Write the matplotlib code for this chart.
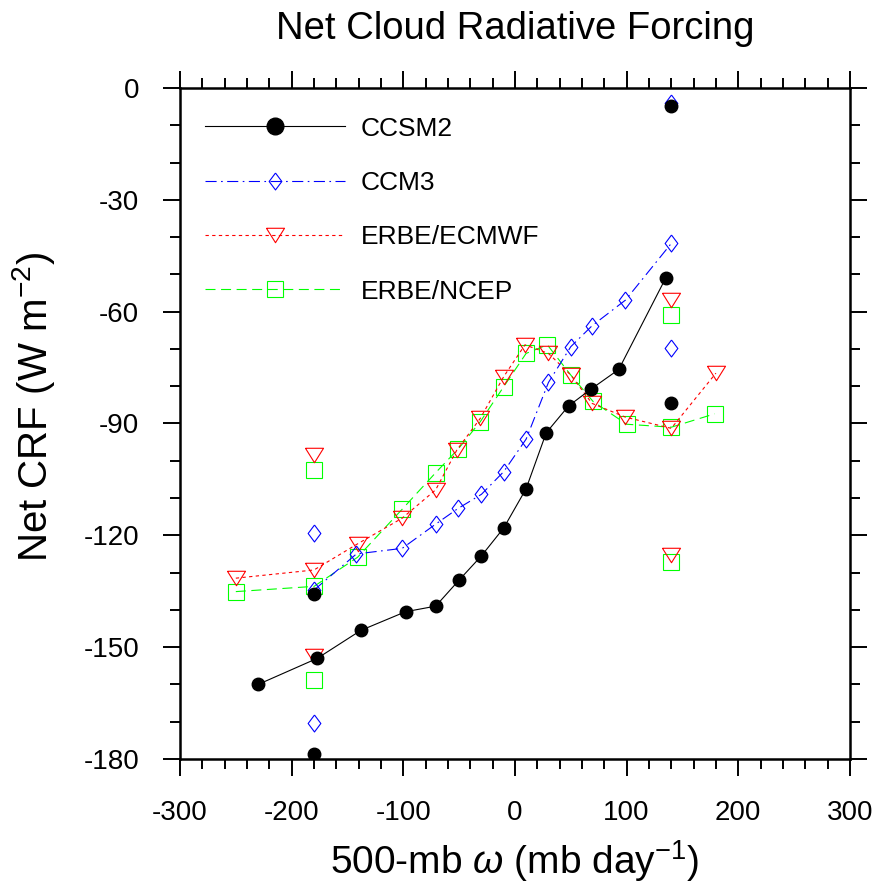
import numpy as np
import matplotlib
matplotlib.use("Agg")
import matplotlib.pyplot as plt
from matplotlib.ticker import MultipleLocator

plt.rcParams['font.family'] = ['Liberation Sans', 'DejaVu Sans']
plt.rcParams['mathtext.fontset'] = 'custom'
plt.rcParams['mathtext.rm'] = 'Liberation Sans'
plt.rcParams['mathtext.it'] = 'Liberation Sans:italic'
plt.rcParams['axes.unicode_minus'] = False

# CCSM2 (binned curve + isolated points at the two ends)
ccsm2_x = [-230, -177, -138, -98, -71, -50, -30, -10, 10, 28, 48, 68, 93, 135]
ccsm2_y = [-160, -153, -145.5, -140.5, -139, -132, -125.5, -118, -107.5, -92.5, -85.3, -80.8, -75.5, -51]
ccsm2_px = [-180, -180, 140, 140]
ccsm2_py = [-178.6, -135.8, -4.8, -84.6]

# CCM3
ccm3_x = [-180, -142, -101, -71, -51, -30, -10, 10, 30, 50, 69, 99, 140]
ccm3_y = [-134.7, -125, -123.5, -117, -112.8, -109, -102.9, -94.2, -79, -69.4, -63.8, -56.9, -41.7]
ccm3_px = [-180, -180, 140, 140]
ccm3_py = [-119.3, -170.4, -69.8, -3.9]

# ERBE/ECMWF
ecmwf_x = [-250, -180, -141, -101, -71, -52, -31, -10, 9, 30, 50, 69, 99, 140, 180]
ecmwf_y = [-131.5, -129.3, -122.3, -115.4, -107.8, -97.1, -88.6, -77.4, -68.9, -71.2, -77, -84.6, -88.3, -91.3, -76.5]
ecmwf_px = [-180, -180, 140, 140]
ecmwf_py = [-98.4, -152.5, -56.9, -125.3]

# ERBE/NCEP
ncep_x = [-250, -180, -141, -101, -71, -51, -31, -10, 10, 29, 50, 70, 100, 140, 179]
ncep_y = [-135.1, -133.7, -125.9, -113, -103.2, -96.9, -89.5, -80.1, -71.2, -68.9, -77, -84.1, -90.2, -91, -87.4]
ncep_px = [-180, -180, 140, 140]
ncep_py = [-102.5, -158.8, -60.9, -127.1]

# marker shapes closer to the NCL ones
diamond = [(0, 1), (0.75, 0), (0, -1), (-0.75, 0), (0, 1)]
tri_down = [(-1, 0.8), (1, 0.8), (0, -0.8), (-1, 0.8)]

GREEN = '#00ff00'
RED = '#ff0000'
BLUE = '#0000ff'

fig = plt.figure(figsize=(8.78, 8.88), dpi=100)
ax = fig.add_axes([0.205, 0.1453, 0.763, 0.7556])

lw = 0.8
mew = 0.8

# green dashed, squares
ax.plot(ncep_x, ncep_y, color=GREEN, lw=lw, dashes=(9, 5), marker='s', ms=11.5,
        mfc='none', mec=GREEN, mew=mew, label='ERBE/NCEP')
ax.plot(ncep_px, ncep_py, ls='none', marker='s', ms=11.5, mfc='none', mec=GREEN, mew=mew)

# red dotted, down triangles
ax.plot(ecmwf_x, ecmwf_y, color=RED, lw=lw, dashes=(3, 3), marker=tri_down, ms=13,
        mfc='none', mec=RED, mew=mew, label='ERBE/ECMWF')
ax.plot(ecmwf_px, ecmwf_py, ls='none', marker=tri_down, ms=13, mfc='none', mec=RED, mew=mew)

# blue dash-dot, diamonds
ax.plot(ccm3_x, ccm3_y, color=BLUE, lw=lw, dashes=(10, 4, 1.5, 4), marker=diamond, ms=12.2,
        mfc='none', mec=BLUE, mew=mew, label='CCM3')
ax.plot(ccm3_px, ccm3_py, ls='none', marker=diamond, ms=12.2, mfc='none', mec=BLUE, mew=mew)

# black solid, filled circles
ax.plot(ccsm2_x, ccsm2_y, color='black', lw=lw, marker='o', ms=9, mfc='black', mec='black',
        label='CCSM2')
ax.plot(ccsm2_px, ccsm2_py, ls='none', marker='o', ms=9, mfc='black', mec='black')

ax.set_xlim(-300, 300)
ax.set_ylim(-180, 0)
ax.xaxis.set_major_locator(MultipleLocator(100))
ax.xaxis.set_minor_locator(MultipleLocator(20))
ax.yaxis.set_major_locator(MultipleLocator(30))
ax.yaxis.set_minor_locator(MultipleLocator(10))

for s in ax.spines.values():
    s.set_linewidth(1.8)
ax.tick_params(which='both', direction='out', top=True, right=True, width=1.4)
ax.tick_params(which='major', length=12.5, labelsize=20, pad=17)
ax.tick_params(which='minor', length=7)

ax.set_title('Net Cloud Radiative Forcing', fontsize=27.5, pad=35)
ax.set_xlabel(r'500-mb $\omega$ (mb day$^{-1}$)', fontsize=28, labelpad=9)
ax.set_ylabel(r'Net CRF (W m$^{-2}$)', fontsize=29)
ax.yaxis.set_label_coords(-0.184, 0.525)

handles, labels = ax.get_legend_handles_labels()
order = [3, 2, 1, 0]
leg = ax.legend([handles[i] for i in order], [labels[i] for i in order],
                loc='upper left', bbox_to_anchor=(0.01, 0.985), frameon=False,
                fontsize=19, handlelength=5.3, handletextpad=0.6, labelspacing=1.15,
                borderaxespad=0.3)
leg.legend_handles[0].set_markersize(12)

fig.savefig('out.png', dpi=100)
